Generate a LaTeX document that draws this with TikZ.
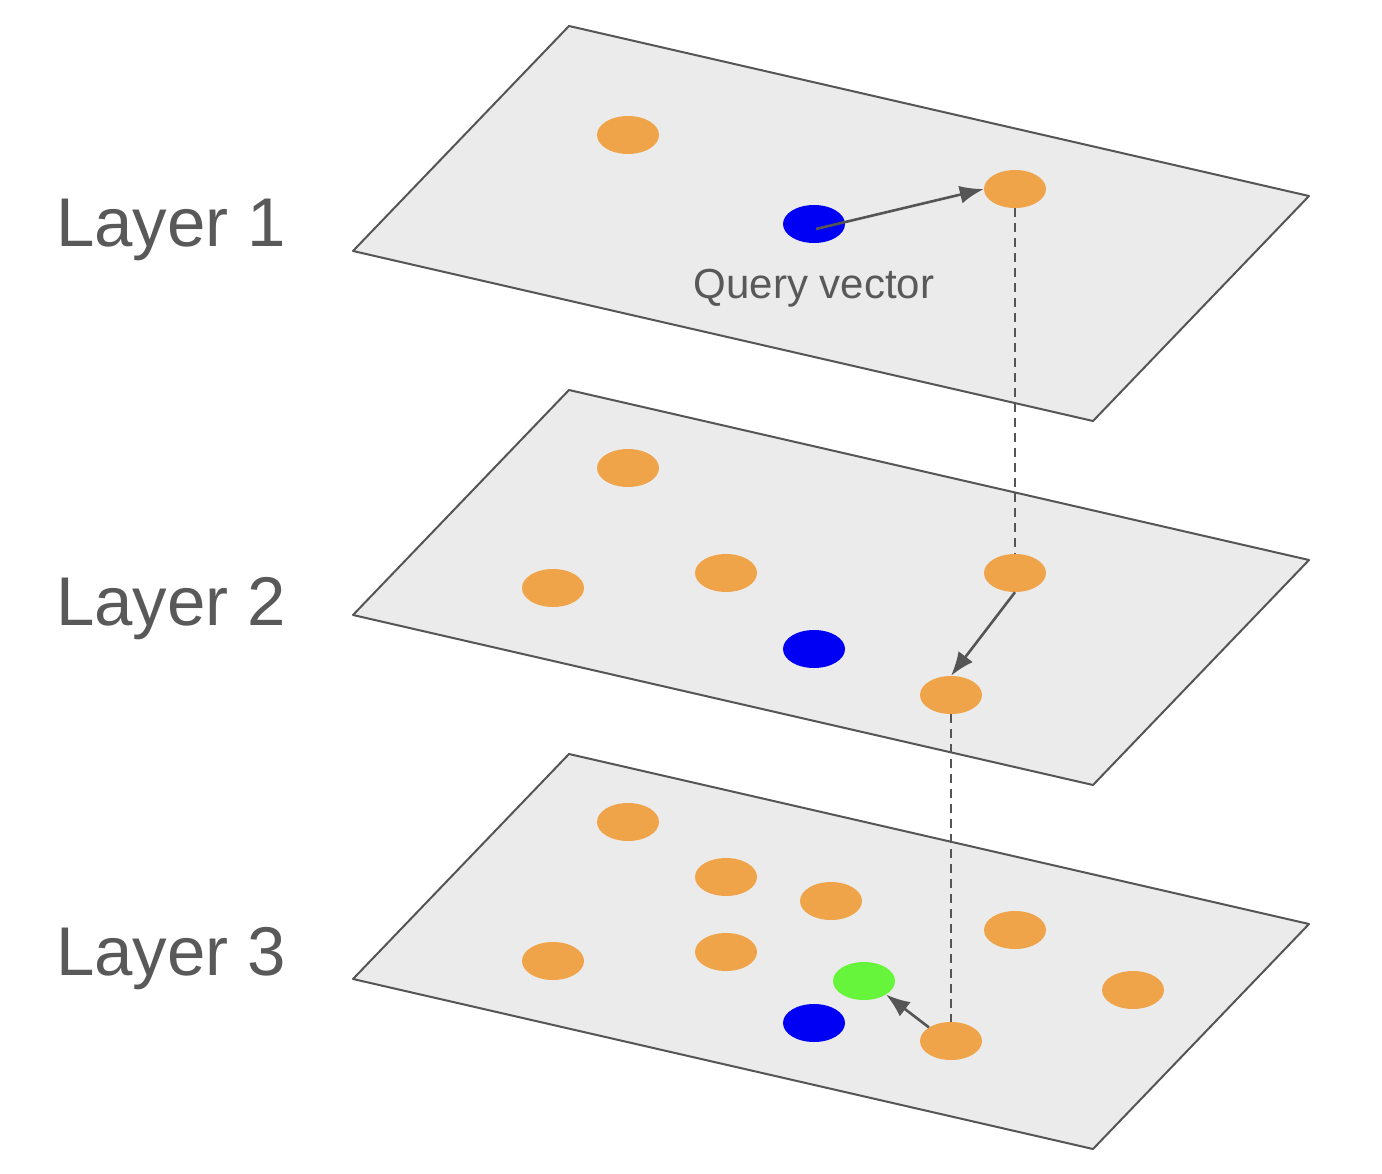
\documentclass[tikz,border=0pt]{standalone}
\usepackage{fontspec}
\setmainfont{Liberation Sans}
\usetikzlibrary{shapes.geometric,arrows.meta}
\definecolor{dotorange}{HTML}{EFA44A}
\definecolor{dotblue}{HTML}{0000F5}
\definecolor{dotgreen}{HTML}{66F53A}
\definecolor{planefill}{HTML}{EBEBEB}
\definecolor{edgegray}{HTML}{555555}
\definecolor{textgray}{HTML}{595959}
\tikzset{
  plane/.style={draw=edgegray, fill=planefill, line width=2pt, line join=round},
  dot/.style={ellipse, minimum width=62pt, minimum height=38pt, inner sep=0pt, draw=none},
  odot/.style={dot, fill=dotorange},
  bdot/.style={dot, fill=dotblue},
  gdot/.style={dot, fill=dotgreen},
  hop/.style={draw=edgegray, line width=2.6pt, -{Latex[length=24pt,width=18pt]}},
  drop/.style={draw=edgegray, line width=2.6pt, dash pattern=on 9pt off 6pt},
  layerlabel/.style={text=textgray, font=\fontsize{69}{69}\selectfont, anchor=west, inner sep=0pt},
}
\begin{document}
\begin{tikzpicture}[x=1pt,y=-1pt]
\useasboundingbox (0,0) rectangle (1382,1174);
% planes
\foreach \dy in {728,364,0}{
  \path[plane] (353,251+\dy) -- (569,26+\dy) -- (1309,196+\dy) -- (1093,421+\dy) -- cycle;
}
% labels
\node[layerlabel] (L1) at (56,230) {Layer 1};
\node[layerlabel] (L2) at (56,609) {Layer 2};
\node[layerlabel] (L3) at (56,959) {Layer 3};
\node[text=textgray, font=\fontsize{42}{42}\selectfont, inner sep=0pt] (qv) at (814,288) {Query vector};
% layer 1 dots
\node[odot] (a1) at (628,135) {};
\node[bdot] (q1) at (814,224) {};
\node[odot] (e1) at (1015,189) {};
% layer 2 dots
\node[odot] (a2) at (628,468) {};
\node[odot] (b2) at (553,588) {};
\node[odot] (c2) at (726,573) {};
\node[odot] (e2) at (1015,573) {};
\node[bdot] (q2) at (814,649) {};
\node[odot] (f2) at (951,695) {};
% layer 3 dots
\node[odot] (a3) at (628,822) {};
\node[odot] (c3) at (726,877) {};
\node[odot] (d3) at (831,901) {};
\node[odot] (e3) at (1015,930) {};
\node[odot] (b3) at (553,961) {};
\node[odot] (g3) at (726,952) {};
\node[odot] (h3) at (1133,990) {};
\node[gdot] (r3) at (864,981) {};
\node[bdot] (q3) at (814,1023) {};
\node[odot] (f3) at (951,1041) {};
% connectors
\draw[drop] (e1.south) -- (e2.north);
\draw[drop] (f2.south) -- (f3.north);
\coordinate (q1s) at ([shift={(2,5)}]q1.center);
\draw[hop] (q1s) -- (e1.west);
\draw[hop] (e2.south) -- (f2.north);
\draw[hop] (f3.north west) -- (r3.south east);
\end{tikzpicture}
\end{document}
